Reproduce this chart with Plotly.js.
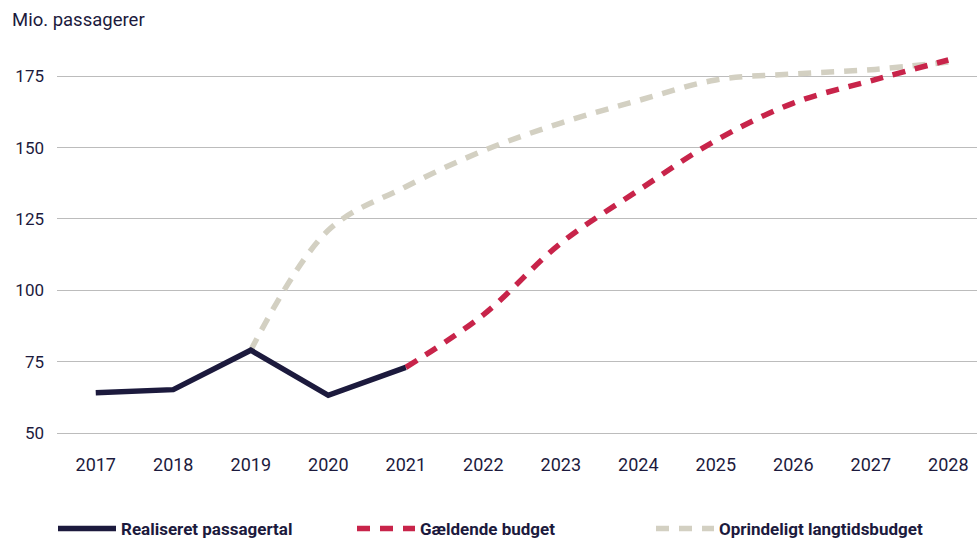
<!DOCTYPE html>
<html>
<head>
<meta charset="utf-8">
<script src="https://cdn.plot.ly/plotly-3.0.1.min.js"></script>
<style>html,body{margin:0;padding:0;background:#fff;}#chart{width:977px;height:540px;}</style>
</head>
<body>
<div id="chart"></div>
<script>
const years = [2017, 2018, 2019, 2020, 2021, 2022, 2023, 2024, 2025, 2026, 2027, 2028];
const realYears = [2017, 2018, 2019, 2020, 2021];
const realValues = [64.1, 65.2, 79, 63.2, 73];
const budgetYears = [2021, 2022, 2023, 2024, 2025, 2026, 2027, 2028];
const budgetValues = [73, 91.4, 116.5, 135, 152.5, 165.6, 173.4, 180.7];
const origYears = [2019, 2020, 2021, 2022, 2023, 2024, 2025, 2026, 2027, 2028];
const origValues = [79, 121, 136.3, 148.9, 158.6, 166.5, 173.7, 175.8, 177.3, 180];
const yTicks = [50, 75, 100, 125, 150, 175];
const names = ['Realiseret passagertal', 'Gældende budget', 'Oprindeligt langtidsbudget'];

const navy = '#1c1a3d', red = '#c8244a', grey = '#d3d0c2';
const fontFam = 'Roboto, "Noto Sans", sans-serif';

const traces = [
  {x: origYears, y: origValues, name: names[2], mode: 'lines', line: {color: grey, width: 5.5, dash: '13px,10px', shape: 'spline', smoothing: 1}, legendrank: 3},
  {x: budgetYears, y: budgetValues, name: names[1], mode: 'lines', line: {color: red, width: 5.5, dash: '13px,10px', shape: 'spline', smoothing: 1}, legendrank: 2},
  {x: realYears, y: realValues, name: names[0], mode: 'lines', line: {color: navy, width: 5.5}, legendrank: 1}
];

const layout = {
  width: 977, height: 540,
  paper_bgcolor: '#fff', plot_bgcolor: '#fff',
  margin: {l: 57, r: 0, t: 40, b: 95},
  font: {family: fontFam, color: navy, size: 16},
  title: {text: 'Mio. passagerer', x: 12/977, xref: 'container', xanchor: 'left', y: 1 - 20/540, yref: 'container', yanchor: 'middle', font: {family: fontFam, size: 18.5, color: navy}},
  xaxis: {range: [2016.5, 2028.37], tickvals: years, ticktext: years.map(String), showgrid: false, zeroline: false, showline: false, ticks: '', ticklabelstandoff: 7, tickfont: {size: 18, color: navy}},
  yaxis: {range: [45.8, 187.7], tickvals: yTicks, showgrid: true, gridcolor: '#bcbcbc', gridwidth: 1, zeroline: false, showline: false, ticks: '', ticklabelstandoff: 12, tickfont: {size: 17, color: navy}},
  showlegend: true,
  legend: {orientation: 'h', x: 53/977, xanchor: 'left', xref: 'container', y: 11/540, yref: 'container', yanchor: 'middle', traceorder: 'normal', itemwidth: 58, font: {family: fontFam, size: 17, color: navy, weight: 'bold'}, entrywidth: 226, entrywidthmode: 'pixels'}
};

Plotly.newPlot('chart', traces, layout, {displayModeBar: false, staticPlot: true});
</script>
</body>
</html>
